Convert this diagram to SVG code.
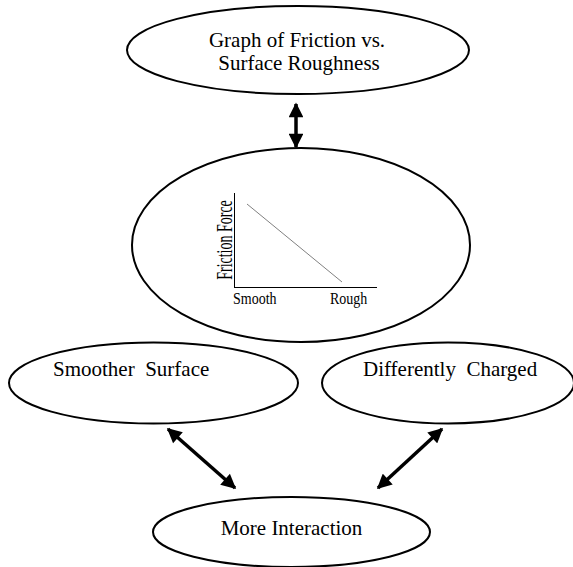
<svg xmlns="http://www.w3.org/2000/svg" width="573" height="567" viewBox="0 0 573 567">
<defs>
<style>
.node{fill:#fff;stroke:#000;stroke-width:2}
.t{font-family:"Liberation Serif","Times New Roman",serif;font-size:21px;fill:#000}
.s{font-family:"Liberation Serif","Times New Roman",serif;font-size:14px;fill:#000}
.conn{stroke:#000;stroke-width:3.5;fill:none;marker-start:url(#ah);marker-end:url(#ah)}
</style>
<marker id="ah" viewBox="0 0 10 10" refX="9" refY="5" markerWidth="4.5" markerHeight="4.2" orient="auto-start-reverse" markerUnits="strokeWidth">
<path d="M0,0 L10,5 L0,10 z" fill="#000"/>
</marker>
</defs>
<rect width="573" height="567" fill="#fff"/>
<g id="connectors">
<line class="conn" x1="296" y1="104" x2="296" y2="147"/>
<line class="conn" x1="168" y1="429" x2="235" y2="488"/>
<line class="conn" x1="378" y1="488" x2="442" y2="429"/>
</g>
<g id="graph-title">
<ellipse class="node" cx="298" cy="50" rx="171" ry="44"/>
<text class="t" x="297" y="47" text-anchor="middle">Graph of Friction vs.</text>
<text class="t" x="299" y="70" text-anchor="middle">Surface Roughness</text>
</g>
<g id="graph">
<ellipse class="node" cx="301" cy="245" rx="169" ry="97"/>
<line x1="234.5" y1="193" x2="234.5" y2="287" stroke="#000" stroke-width="1"/>
<line x1="234" y1="287.5" x2="377" y2="287.5" stroke="#000" stroke-width="1"/>
<line x1="247" y1="204" x2="342" y2="282" stroke="#808080" stroke-width="1"/>
<text class="s" transform="translate(232,240) rotate(-90) scale(1,1.6)" text-anchor="middle">Friction Force</text>
<text class="s" transform="translate(233,304) scale(1,1.12)">Smooth</text>
<text class="s" transform="translate(330,304) scale(1,1.12)">Rough</text>
</g>
<g id="smoother-surface">
<ellipse class="node" cx="153.5" cy="383" rx="144.5" ry="40.5"/>
<text class="t" x="53" y="376" xml:space="preserve">Smoother  Surface</text>
</g>
<g id="differently-charged">
<ellipse class="node" cx="448" cy="383" rx="126" ry="40.5"/>
<text class="t" x="363" y="376" xml:space="preserve">Differently  Charged</text>
</g>
<g id="more-interaction">
<ellipse class="node" cx="291.5" cy="532" rx="138.5" ry="35"/>
<text class="t" x="291.5" y="535" text-anchor="middle">More Interaction</text>
</g>
</svg>
